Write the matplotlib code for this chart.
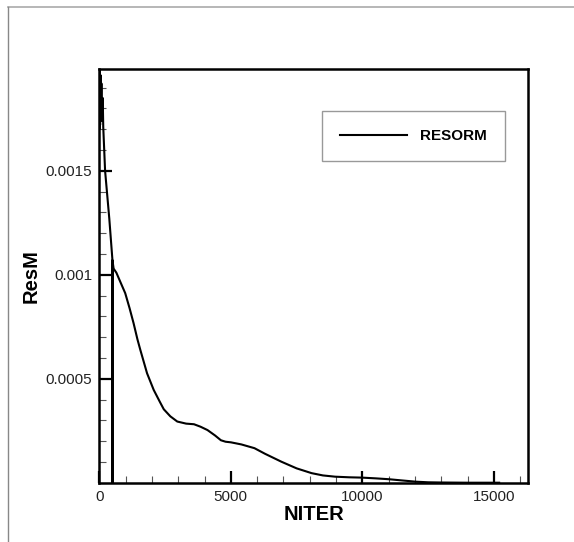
import numpy as np
import matplotlib.pyplot as plt
from matplotlib.lines import Line2D
from matplotlib.ticker import MultipleLocator, FormatStrFormatter

plt.rcParams['font.family'] = ['Liberation Sans', 'DejaVu Sans']

# Residual history (iteration, mass residual)
niter = [0, 10, 20, 30, 45, 60, 80, 100, 130, 150, 220, 380, 500, 500, 500,
         544, 650, 793, 985, 1150, 1302, 1450, 1558, 1815, 2068, 2300, 2451,
         2700, 2964, 3300, 3600, 3850, 4113, 4400, 4623, 4800, 5006, 5400,
         5898, 6300, 6921, 7500, 8070, 8500, 8962, 9500, 9985, 10500, 11007,
         11500, 12026, 12500, 13000, 14000, 15200]
resm = [0.00199, 0.00170, 0.00198, 0.00172, 0.00196, 0.00175, 0.00192,
        0.00174, 0.00185, 0.00171, 0.00150, 0.00127, 0.00107, 0.0, 0.00107,
        0.00103, 0.00101, 0.000968, 0.000912, 0.00084, 0.000768, 0.00069,
        0.00064, 0.000527, 0.000447, 0.00039, 0.000354, 0.00032, 0.000295,
        0.000285, 0.000282, 0.000270, 0.000254, 0.000228, 0.000205, 0.000198,
        0.000195, 0.000185, 0.000167, 0.000140, 0.000102, 0.00007, 0.000047,
        0.000036, 0.00003, 0.000027, 0.0000255, 0.000022, 0.0000178,
        0.000012, 0.000006, 0.000003, 0.000002, 0.000001, 0.000001]

xticks = [0, 5000, 10000, 15000]
yticks = [0.0005, 0.001, 0.0015]

fig = plt.figure(figsize=(5.74, 5.42), dpi=100)
ax = fig.add_axes([0.173, 0.109, 0.747, 0.764])

ax.plot(niter, resm, color='black', lw=1.5, label='RESORM')

ax.set_xlim(0, 16300)
ax.set_ylim(0, 0.00199)
ax.set_xticks(xticks)
ax.set_yticks(yticks)
ax.xaxis.set_minor_locator(MultipleLocator(1000))
ax.yaxis.set_minor_locator(MultipleLocator(0.0001))
ax.yaxis.set_major_formatter(FormatStrFormatter('%g'))

ax.tick_params(which='major', direction='in', length=9, width=1.6,
               labelsize=11, labelcolor='#222222', pad=5)
ax.tick_params(which='minor', direction='in', length=5, width=0.8,
               color='#555555')
for s in ax.spines.values():
    s.set_linewidth(1.8)

ax.set_xlabel('NITER', fontsize=14.5, fontweight='bold', labelpad=1)
ax.set_ylabel('ResM', fontsize=14.5, fontweight='bold', labelpad=4)

leg = ax.legend(loc='upper left', bbox_to_anchor=(0.519, 0.899),
                prop={'weight': 'bold', 'size': 11},
                handlelength=4.4, handletextpad=0.85, borderpad=1.2,
                borderaxespad=0, fancybox=False, framealpha=1)
leg.get_frame().set_edgecolor('#999999')
leg.get_frame().set_linewidth(1.0)

# thin grey page border
fig.add_artist(Line2D([8 / 574, 1], [1 - 7 / 542, 1 - 7 / 542],
                      transform=fig.transFigure, color='#aaaaaa', lw=1.2))
fig.add_artist(Line2D([8 / 574, 8 / 574], [0, 1 - 7 / 542],
                      transform=fig.transFigure, color='#888888', lw=1.0))

plt.savefig('out.png', dpi=100)
